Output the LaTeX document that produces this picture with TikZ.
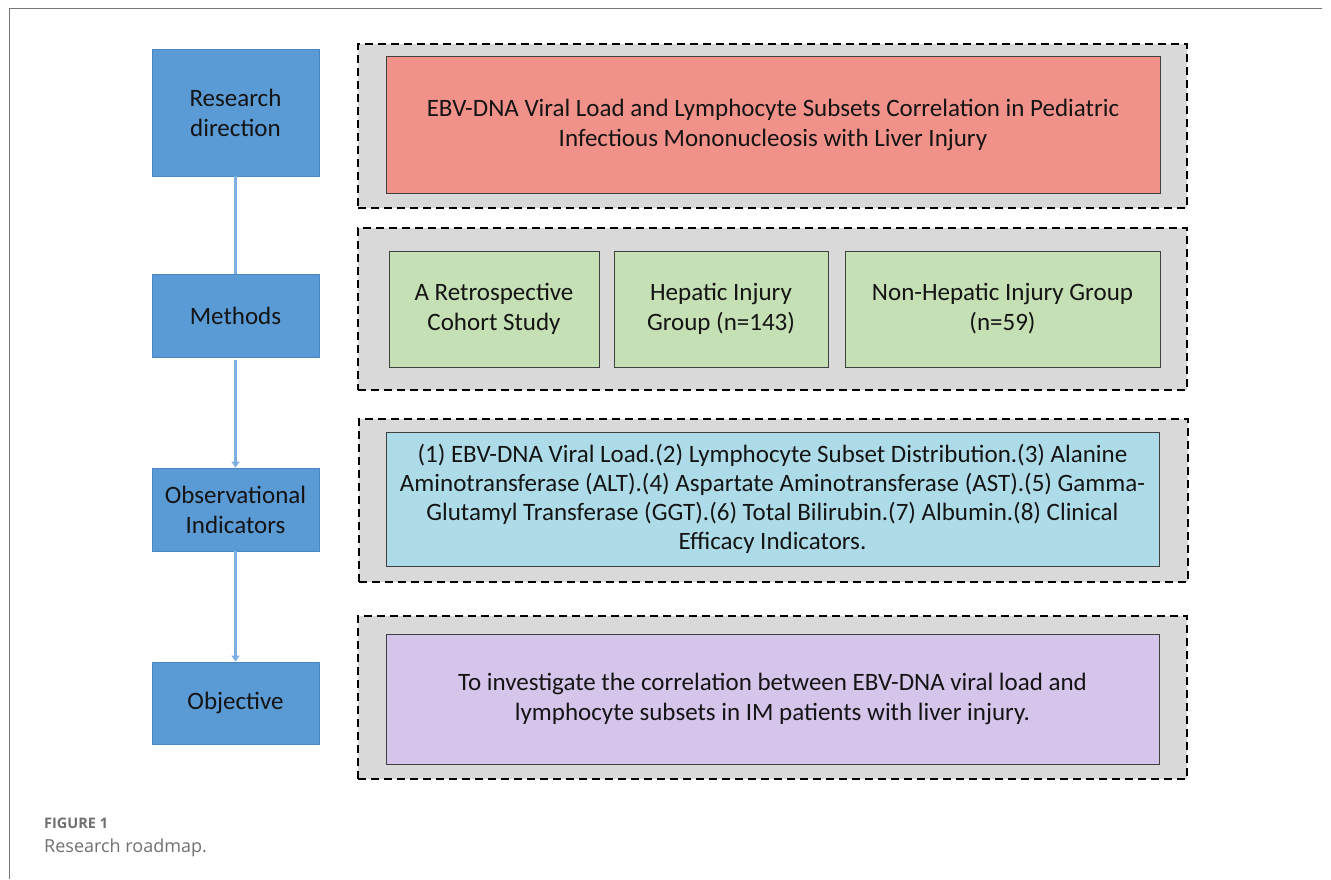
\documentclass[tikz,border=0pt]{standalone}
\usepackage{fontspec}
\setmainfont{Carlito}
\newfontfamily\capfont{Open Sans}
\usetikzlibrary{arrows.meta}
\definecolor{stepblue}{HTML}{5B9BD5}
\definecolor{stepblueedge}{HTML}{4A86C2}
\definecolor{linkblue}{HTML}{7DB0E0}
\definecolor{grpgray}{HTML}{D9D9D9}
\definecolor{redfill}{HTML}{F1928A}
\definecolor{greenfill}{HTML}{C5E0B4}
\definecolor{cyanfill}{HTML}{ADDCE8}
\definecolor{purplefill}{HTML}{D6C5EB}
\definecolor{txtdark}{HTML}{141414}
\definecolor{capgray}{HTML}{707070}
\definecolor{framegray}{HTML}{777777}
\tikzset{
  stepbox/.style={draw=stepblueedge, line width=0.8pt, fill=stepblue, minimum width=167pt, inner sep=0pt, align=center, text=txtdark, font=\fontsize{25}{30}\selectfont},
  groupbox/.style={draw=black, line width=2pt, dash pattern=on 8pt off 5pt, fill=grpgray, minimum width=829pt, inner sep=0pt},
  contentbox/.style={draw=black!75, line width=0.8pt, inner sep=0pt, align=center, text=txtdark, font=\fontsize{25}{30}\selectfont},
  link/.style={draw=linkblue, line width=2.2pt},
  linkarrow/.style={link, -{Triangle[width=8pt,length=6pt]}}
}
\begin{document}
\begin{tikzpicture}[x=1pt,y=-1pt]
\useasboundingbox (0,0) rectangle (1331,879);
% frame
\draw[framegray, line width=1.3pt] (9.5,879) -- (9.5,8.5) -- (1322,8.5);

% left column
\node[stepbox, minimum height=127pt] (rd) at (235.5,112.5) {Research\\direction};
\node[stepbox, minimum height=83pt] (me) at (235.5,315.5) {Methods};
\node[stepbox, minimum height=83pt] (ob) at (235.5,509.5) {Observational\\Indicators};
\node[stepbox, minimum height=82pt] (oj) at (235.5,703) {Objective};

% connectors
\draw[link] (rd.south) -- (me.north);
\draw[linkarrow, shorten <=3pt] (me.south) -- (ob.north);
\draw[linkarrow] (ob.south) -- (oj.north);

% group 1
\node[groupbox, minimum height=164pt] (g1) at (772.5,126) {};
\node[contentbox, fill=redfill, minimum width=774pt, minimum height=137pt] (red) at (773,124.5)
  {EBV-DNA Viral Load and Lymphocyte Subsets Correlation in Pediatric\\Infectious Mononucleosis with Liver Injury};

% group 2
\node[groupbox, minimum height=162pt] (g2) at (772.5,309) {};
\node[contentbox, fill=greenfill, minimum width=210pt, minimum height=116pt] (gr1) at (494,309)
  {A Retrospective\\Cohort Study};
\node[contentbox, fill=greenfill, minimum width=214pt, minimum height=116pt] (gr2) at (721,309)
  {Hepatic Injury\\Group (n=143)};
\node[contentbox, fill=greenfill, minimum width=315pt, minimum height=116pt] (gr3) at (1002.5,309)
  {Non-Hepatic Injury Group\\(n=59)};

% group 3
\node[groupbox, minimum height=163pt] (g3) at (773,500.5) {};
\node[contentbox, fill=cyanfill, minimum width=773pt, minimum height=134pt, font=\fontsize{25}{29}\selectfont] (cy) at (772.5,499)
  {(1) EBV-DNA Viral Load.(2) Lymphocyte Subset Distribution.(3) Alanine\\
   Aminotransferase (ALT).(4) Aspartate Aminotransferase (AST).(5) Gamma-\\
   Glutamyl Transferase (GGT).(6) Total Bilirubin.(7) Albumin.(8) Clinical\\
   Efficacy Indicators.};

% group 4
\node[groupbox, minimum height=163pt] (g4) at (772.5,697.5) {};
\node[contentbox, fill=purplefill, minimum width=773pt, minimum height=130pt] (pu) at (772.5,699)
  {To investigate the correlation between EBV-DNA viral load and\\lymphocyte subsets in IM patients with liver injury.};

% caption
\node[anchor=base west, inner sep=0pt, text=capgray, font=\capfont\bfseries\fontsize{14.5}{17}\selectfont] (fig) at (44,828) {FIGURE 1};
\node[anchor=base west, inner sep=0pt, text=capgray, font=\capfont\fontsize{18}{22}\selectfont] (cap) at (44,852) {Research roadmap.};
\end{tikzpicture}
\end{document}
